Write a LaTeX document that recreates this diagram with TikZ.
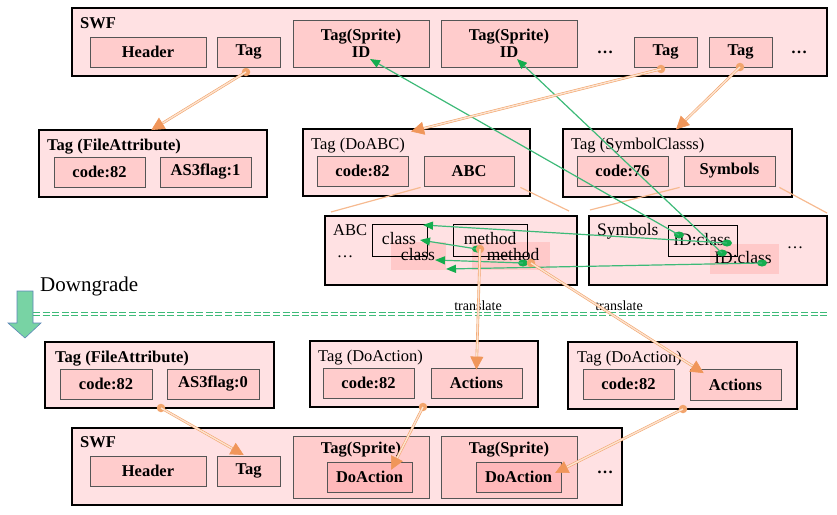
\documentclass[tikz,border=0pt]{standalone}
\usepackage{fontspec}
\setmainfont{Liberation Serif}
\usetikzlibrary{arrows.meta,calc,shapes.geometric}
\definecolor{pinkA}{HTML}{FFE1E3}
\definecolor{pinkB}{HTML}{FFCCCC}
\definecolor{pinkC}{HTML}{FFB8BA}
\definecolor{hil}{HTML}{FFC9C9}
\definecolor{bord}{HTML}{555555}
\definecolor{orL}{HTML}{F2A46C}
\definecolor{orI}{HTML}{FCE3D0}
\definecolor{orF}{HTML}{F0965A}
\definecolor{orT}{HTML}{F6BA90}
\definecolor{grL}{HTML}{3DBA78}
\definecolor{grF}{HTML}{14AD4E}
\definecolor{dgF}{HTML}{78D3A4}
\definecolor{dgB}{HTML}{5B86B8}
\newcommand\fB{\fontsize{16.5}{17}\selectfont\bfseries}
\newcommand\fR{\fontsize{16.5}{17}\selectfont}
\newcommand\fC{\fontsize{17.5}{18}\selectfont}
\tikzset{
 outerbox/.style={draw=black, line width=2pt, fill=pinkA, inner sep=0pt},
 innerbox/.style={draw=bord, line width=0.8pt, fill=pinkB, inner sep=0pt, font=\fB},
 dabox/.style={innerbox, fill=pinkC},
 outlinebox/.style={draw=black, line width=0.7pt, inner sep=0pt},
 hilite/.style={fill=hil, inner sep=0pt},
 ttl/.style={anchor=base west, inner sep=0pt, font=\fR},
 ttlb/.style={anchor=base west, inner sep=0pt, font=\fB},
 lbl/.style={inner sep=0pt, font=\fC},
 dotsty/.style={anchor=base, inner sep=0pt, font=\fB},
 odot/.style={circle, fill=orL, inner sep=0pt, minimum size=8.5pt},
 gdot/.style={ellipse, fill=grF, inner sep=0pt, minimum width=10pt, minimum height=7pt},
 oarr/.style={draw=orL, double=orI, line width=0.6pt, double distance=1.4pt, shorten >=-2pt,
   -{Triangle[length=13pt,width=13pt,fill=orF,color=orF]}},
 garr/.style={draw=grL, line width=1.2pt, -{Triangle[length=10pt,width=8pt,fill=grF,color=grF]}},
 thinor/.style={draw=orT, line width=1.2pt},
 dgline/.style={draw=grL, line width=1pt, dash pattern=on 7pt off 2.6pt},
}
\begin{document}
\begin{tikzpicture}[x=1pt,y=-1pt]
\useasboundingbox (0,0) rectangle (837,514);

% ---------------- top SWF
\node[outerbox, minimum width=755, minimum height=68] (swf1) at (449.5,42) {};
\node[ttlb] (swf1t) at (80,28) {SWF};
\node[innerbox, minimum width=116, minimum height=30] (hdr1) at (148,52) {Header};
\node[innerbox, minimum width=63, minimum height=30] (tag1) at (248.5,52) {Tag};
\node[innerbox, minimum width=136, minimum height=47, align=center] (spr1) at (361,43.5) {Tag(Sprite)\\ID};
\node[innerbox, minimum width=136, minimum height=47, align=center] (spr2) at (509,43.5) {Tag(Sprite)\\ID};
\node[dotsty] (dt1) at (605,53) {\dots};
\node[innerbox, minimum width=63, minimum height=30] (tag3) at (665.5,52) {Tag};
\node[innerbox, minimum width=63, minimum height=30] (tag4) at (740.5,52) {Tag};
\node[dotsty] (dt2) at (799,53) {\dots};

% ---------------- Tag FileAttribute (top)
\node[outerbox, minimum width=228, minimum height=67] (fa1) at (153,163.5) {};
\node[ttlb] (fa1t) at (47,150) {Tag (FileAttribute)};
\node[innerbox, minimum width=91, minimum height=30] (code1) at (99.5,172) {code:82};
\node[innerbox, minimum width=91, minimum height=30] (as1) at (205.5,172) {AS3flag:1};

% ---------------- Tag DoABC
\node[outerbox, minimum width=227, minimum height=67] (doabc) at (416.5,162.5) {};
\node[ttl] (doabct) at (311,149) {Tag (DoABC)};
\node[innerbox, minimum width=91, minimum height=30] (code2) at (362.5,171) {code:82};
\node[innerbox, minimum width=90, minimum height=30] (abc) at (469,171) {ABC};

% ---------------- Tag SymbolClasss
\node[outerbox, minimum width=229, minimum height=68] (symc) at (677.5,163) {};
\node[ttl] (symct) at (571,149) {Tag (SymbolClasss)};
\node[innerbox, minimum width=91, minimum height=30] (code76) at (622.5,171) {code:76};
\node[innerbox, minimum width=91, minimum height=30] (sym) at (729.5,171) {Symbols};

% ---------------- ABC expanded
\node[outerbox, minimum width=252, minimum height=69] (abcx) at (451,250.5) {};
\node[ttl] (abcxt) at (333,235) {ABC};
\node[dotsty, font=\fR] (dt3) at (345,257) {\dots};
\node[hilite, minimum width=55, minimum height=28] (cls2) at (418.5,256) {};
\node[hilite, minimum width=78, minimum height=28] (meth2) at (511,256) {};
\node[outlinebox, minimum width=55, minimum height=32] (cls1) at (399.5,240) {};
\node[outlinebox, minimum width=74, minimum height=32] (meth1) at (490,240) {};
\node[lbl] (cls1l) at (399,239) {class};
\node[lbl] (cls2l) at (418,255) {class};
\node[lbl] (meth1l) at (490,239) {method};
\node[lbl] (meth2l) at (513,255) {method};

% ---------------- Symbols expanded
\node[outerbox, minimum width=238, minimum height=69] (symx) at (708,250.5) {};
\node[ttl, font=\fC] (symxt) at (597,235) {Symbols};
\node[hilite, minimum width=69, minimum height=30] (idc2) at (744.5,259) {};
\node[outlinebox, minimum width=69, minimum height=31] (idc1) at (702.5,240.5) {};
\node[lbl] (idc1l) at (702,240) {ID:class};
\node[lbl] (idc2l) at (743,258) {ID:class};
\node[dotsty, font=\fR] (dt4) at (795,248) {\dots};

% expansion lines
\coordinate (e1) at (331,212);
\coordinate (e2) at (569,211);
\coordinate (e3) at (590,210);
\coordinate (e4) at (827,213);
\draw[thinor] (abc.south west) ++(-3,1) -- (e1);
\draw[thinor] (abc.south east) ++(6,1) -- (e2);
\draw[thinor] (sym.south west) ++(-4,1) -- (e3);
\draw[thinor] (sym.south east) ++(4,1) -- (e4);

% ---------------- Downgrade
\draw[fill=dgF, draw=dgB, line width=0.6pt] (17,291) -- (33,291) -- (33,323) -- (41,323) -- (25,338) -- (8,323) -- (17,323) -- cycle;
\node[anchor=base west, inner sep=0pt, font=\fontsize{21}{22}\selectfont] (dg) at (40,291) {Downgrade};
\draw[dgline] (33,312) -- (828,312);
\draw[dgline] (33,315.5) -- (828,315.5);
\node[anchor=base, inner sep=0pt, font=\fontsize{14}{15}\selectfont] (tr1) at (478,310) {translate};
\node[anchor=base, inner sep=0pt, font=\fontsize{14}{15}\selectfont] (tr2) at (619,310) {translate};

% ---------------- lower FileAttribute
\node[outerbox, minimum width=229, minimum height=66] (fa2) at (159.5,375) {};
\node[ttlb] (fa2t) at (55,362) {Tag (FileAttribute)};
\node[innerbox, minimum width=92, minimum height=30] (code3) at (106,384) {code:82};
\node[innerbox, minimum width=92, minimum height=30] (as2) at (213,384) {AS3flag:0};

% ---------------- lower DoAction 1
\node[outerbox, minimum width=228, minimum height=66] (da1) at (424,374) {};
\node[ttl] (da1t) at (318,361) {Tag (DoAction)};
\node[innerbox, minimum width=91, minimum height=30] (code4) at (368.5,383) {code:82};
\node[innerbox, minimum width=91, minimum height=30] (act1) at (476.5,383) {Actions};

% ---------------- lower DoAction 2
\node[outerbox, minimum width=229, minimum height=67] (da2) at (682.5,375.5) {};
\node[ttl] (da2t) at (577,362) {Tag (DoAction)};
\node[innerbox, minimum width=91, minimum height=30] (code5) at (628.5,384) {code:82};
\node[innerbox, minimum width=91, minimum height=31] (act2) at (735.5,384.5) {Actions};

% ---------------- lower SWF
\node[outerbox, minimum width=550, minimum height=77] (swf2) at (347,466.5) {};
\node[ttlb] (swf2t) at (80,447) {SWF};
\node[innerbox, minimum width=116, minimum height=30] (hdr2) at (148,471) {Header};
\node[innerbox, minimum width=63, minimum height=30] (tag2) at (248.5,471) {Tag};
\node[innerbox, minimum width=136, minimum height=62] (spr3) at (361,467) {};
\node[anchor=base, inner sep=0pt, font=\fB] (spr3t) at (361,453) {Tag(Sprite)};
\node[dabox, minimum width=85, minimum height=30] (da3) at (369.5,477) {DoAction};
\node[innerbox, minimum width=136, minimum height=62] (spr4) at (509,467) {};
\node[anchor=base, inner sep=0pt, font=\fB] (spr4t) at (509,453) {Tag(Sprite)};
\node[dabox, minimum width=85, minimum height=30] (da4) at (518.5,477) {DoAction};
\node[dotsty] (dt5) at (605,473) {\dots};

% ---------------- green arrows
\coordinate (id1) at (370,59);
\coordinate (id2) at (517,59);
\coordinate (c1) at (423,225);
\coordinate (c2) at (420,240);
\coordinate (c3) at (435,260);
\coordinate (c4) at (446,269);
\node[gdot] (gA) at (679,235) {};
\node[gdot] (gB) at (727,243) {};
\node[gdot] (gC) at (722,253) {};
\node[gdot] (gD) at (762,263) {};
\node[gdot] (gE) at (477,249) {};
\node[gdot] (gF) at (523,263) {};
\draw[garr] (gA.center) -- (id1);
\draw[garr] (gC.center) -- (id2);
\draw[garr] (gB.center) -- (c1);
\draw[garr] (gE.center) -- (c2);
\draw[garr] (gF.center) -- (c3);
\draw[garr] (gD.center) -- (c4);

% ---------------- orange arrows
\coordinate (t2) at (413,131);
\coordinate (t5) at (702,372);
\coordinate (t6) at (242,454);
\coordinate (t7) at (392,468);
\coordinate (t8) at (557,472);
\node[odot] (oA) at (246,72) {};
\node[odot] (oB) at (661,69) {};
\node[odot] (oC) at (740,67) {};
\node[odot] (oD) at (480,249) {};
\node[odot] (oE) at (531,263) {};
\node[odot] (oF) at (161,408) {};
\node[odot] (oG) at (423,407) {};
\node[odot] (oH) at (683,409) {};
\draw[oarr] (oA.center) -- (fa1.north);
\draw[oarr] (oB.center) -- (t2);
\draw[oarr] (oC.center) -- (symc.north);
\draw[oarr] (oD.center) -- (act1.north);
\draw[oarr] (oE.center) -- (t5);
\draw[oarr] (oF.center) -- (t6);
\draw[oarr] (oG.center) -- (t7);
\draw[oarr] (oH.center) -- (t8);
\end{tikzpicture}
\end{document}
